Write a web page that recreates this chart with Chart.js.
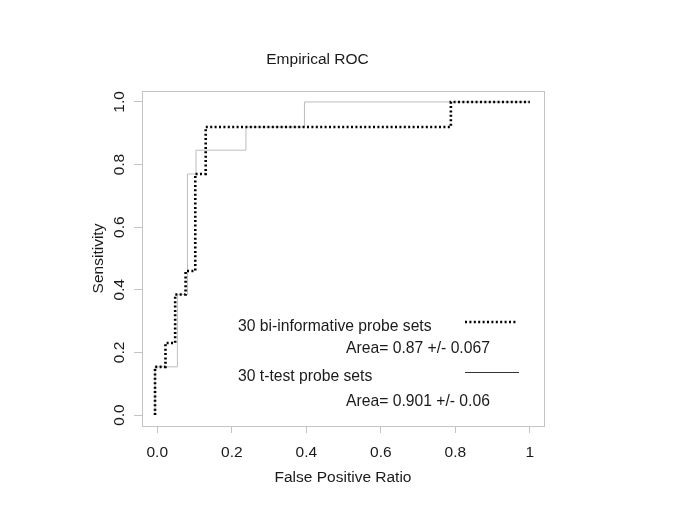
<!DOCTYPE html>
<html lang="en">
<head>
<meta charset="UTF-8">
<title>Empirical ROC</title>
<script src="https://cdn.jsdelivr.net/npm/chart.js"></script>
<style>
  body { margin: 0; background: #fff; }
  #wrap { width: 685px; height: 529px; }
</style>
</head>
<body>
<div id="wrap"><canvas id="roc" width="685" height="529"></canvas></div>
<script>
// ROC corners (stepped: vertical first, then horizontal)
const biFpr = [-0.006, 0.022, 0.048, 0.076, 0.102, 0.130, 0.788, 1.0];
const biTpr = [0, 0.154, 0.23, 0.385, 0.46, 0.77, 0.92, 1.0];
const ttFpr = [-0.006, 0.054, 0.081, 0.104, 0.238, 0.395, 1.0];
const ttTpr = [0, 0.154, 0.385, 0.77, 0.846, 0.92, 1.0];

const xTicks = [0, 0.2, 0.4, 0.6, 0.8, 1];
const xTickLabels = ['0.0', '0.2', '0.4', '0.6', '0.8', '1'];
const yTicks = [0, 0.2, 0.4, 0.6, 0.8, 1];
const yTickLabels = ['0.0', '0.2', '0.4', '0.6', '0.8', '1.0'];

const legendNames = ['30 bi-informative probe sets', '30 t-test probe sets'];
const legendAreas = ['Area= 0.87 +/- 0.067', 'Area= 0.901 +/- 0.06'];

const FONT = "'Liberation Sans', Arial, Helvetica, sans-serif";
const INK = '#1a1a1a';
const FRAME = '#c4c4c4';

function pts(xs, ys) {
    return xs.map((x, i) => ({ x: x, y: ys[i] }));
}

// box, main title and the legend
const rocDecor = {
    id: 'rocDecor',
    beforeDatasetsDraw(chart) {
        const a = chart.chartArea;
        const ctx = chart.ctx;
        ctx.save();
        ctx.strokeStyle = FRAME;
        ctx.lineWidth = 1;
        ctx.strokeRect(Math.round(a.left) + 0.5, Math.round(a.top) + 0.5,
            Math.round(a.right - a.left), Math.round(a.bottom - a.top));
        ctx.restore();
    },
    afterDraw(chart) {
        const ctx = chart.ctx;
        ctx.save();
        ctx.fillStyle = INK;
        ctx.textBaseline = 'alphabetic';

        ctx.font = '15.5px ' + FONT;
        ctx.textAlign = 'center';
        ctx.fillText('Empirical ROC', 317.5, 64);

        ctx.font = '15.7px ' + FONT;
        ctx.textAlign = 'left';
        ctx.fillText(legendNames[0], 238, 331);
        ctx.fillText(legendAreas[0], 346, 353);
        ctx.fillText(legendNames[1], 238, 380.5);
        ctx.fillText(legendAreas[1], 346, 405.5);

        // legend samples
        ctx.strokeStyle = '#000';
        ctx.lineWidth = 2.6;
        ctx.setLineDash([2, 2.4]);
        ctx.beginPath();
        ctx.moveTo(465, 322);
        ctx.lineTo(516, 322);
        ctx.stroke();
        ctx.setLineDash([]);
        ctx.lineWidth = 1;
        ctx.strokeStyle = '#333';
        ctx.beginPath();
        ctx.moveTo(465, 372.5);
        ctx.lineTo(519, 372.5);
        ctx.stroke();
        ctx.restore();
    }
};

new Chart(document.getElementById('roc'), {
    type: 'line',
    data: {
        datasets: [
            {
                label: legendNames[0],
                data: pts(biFpr, biTpr),
                borderColor: '#000',
                borderWidth: 2.6,
                borderDash: [2, 2.4],
                stepped: 'after',
                pointRadius: 0,
                fill: false
            },
            {
                label: legendNames[1],
                data: pts(ttFpr, ttTpr),
                borderColor: '#bdbdbd',
                borderWidth: 1,
                stepped: 'after',
                pointRadius: 0,
                fill: false
            }
        ]
    },
    options: {
        responsive: false,
        animation: false,
        layout: { padding: { left: 0, right: 141, top: 91, bottom: 0 } },
        plugins: {
            legend: { display: false },
            title: { display: false },
            tooltip: { enabled: false }
        },
        scales: {
            x: {
                type: 'linear',
                min: -0.041,
                max: 1.038,
                afterFit: s => { s.height = 103; },
                afterBuildTicks: s => { s.ticks = xTicks.map(v => ({ value: v })); },
                border: { display: false },
                grid: { drawOnChartArea: false, drawTicks: true, tickLength: 7, color: FRAME },
                ticks: {
                    padding: 10,
                    maxRotation: 0,
                    autoSkip: false,
                    color: INK,
                    font: { family: FONT, size: 15.5 },
                    callback: (v, i) => xTickLabels[i]
                },
                title: {
                    display: true,
                    text: 'False Positive Ratio',
                    color: INK,
                    font: { family: FONT, size: 15.5 },
                    padding: { top: 0, bottom: 42 }
                }
            },
            y: {
                type: 'linear',
                min: -0.035,
                max: 1.035,
                afterFit: s => { s.width = 142; },
                afterBuildTicks: s => { s.ticks = yTicks.map(v => ({ value: v })); },
                border: { display: false },
                grid: { drawOnChartArea: false, drawTicks: true, tickLength: 8, color: FRAME },
                ticks: {
                    padding: 4,
                    minRotation: 90,
                    maxRotation: 90,
                    crossAlign: 'center',
                    autoSkip: false,
                    color: INK,
                    font: { family: FONT, size: 15.5 },
                    callback: (v, i) => yTickLabels[i]
                },
                title: {
                    display: true,
                    text: 'Sensitivity',
                    color: INK,
                    font: { family: FONT, size: 15.5 },
                    padding: { top: 89, bottom: 0 }
                }
            }
        }
    },
    plugins: [rocDecor]
});
</script>
</body>
</html>
